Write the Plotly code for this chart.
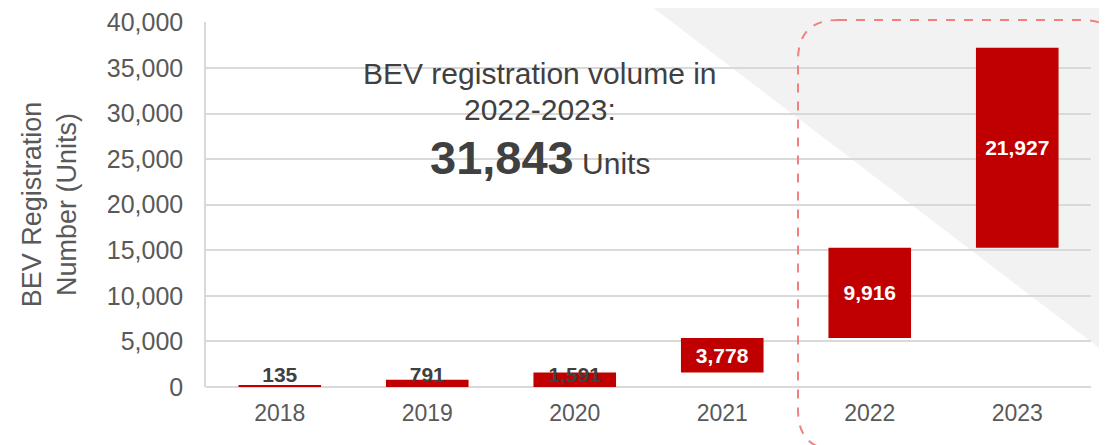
import plotly.graph_objects as go

# BEV registrations per year (units)
years = ["2018", "2019", "2020", "2021", "2022", "2023"]
values = [135, 791, 1591, 3778, 9916, 21927]
total_label = "31,843"

FONT = "Liberation Sans, Arial, sans-serif"
RED = "#C00000"
GREY_TXT = "#404040"

# first three bars start at zero, the rest stack on from 2020
bases = [0, 0, 0]
run = values[2]
for v in values[3:]:
  bases.append(run)
  run += v

small = [f"{v:,}" for v in values[:3]]
big = [f"{v:,}" for v in values[3:]]

fig = go.Figure()

fig.add_trace(go.Bar(
  x = years,
  y = values,
  base = bases,
  marker = dict(color = RED, line = dict(width = 0)),
  text = [""] * 3 + big,
  textposition = "inside",
  insidetextanchor = "middle",
  textangle = 0,
  textfont = dict(family = FONT, size = 21, color = "white", weight = "bold"),
  hoverinfo = "x+y",
))

# labels for the tiny bars, sitting on the baseline
fig.add_trace(go.Scatter(
  x = years[:3],
  y = [0, 0, 0],
  mode = "text",
  text = small,
  textposition = "top center",
  textfont = dict(family = FONT, size = 21, color = GREY_TXT, weight = "bold"),
  hoverinfo = "skip",
))

# the page body has an 8px margin, so the figure sits 8px in from the window
OFF = 8
W, H = 1107, 445
# wanted plot area in window pixels: x 206..1091, y 22..387
PX0, PX1, PY0, PY1 = 206, 1091, 22, 387
L, R = PX0 - OFF, W - (PX1 - OFF)
T, B = PY0 - OFF, H - (PY1 - OFF)
pw, ph = PX1 - PX0, PY1 - PY0
def px(x): return (x - PX0) / pw
def py(y): return (PY1 - y) / ph

shapes = []
# grey triangle in the top right corner
shapes.append(dict(
  type = "path", xref = "paper", yref = "paper", layer = "below",
  path = f"M {px(630)} {py(-10)} L {px(1115)} {py(-10)} L {px(1115)} {py(360)} Z",
  fillcolor = "#F2F2F2", line = dict(width = 0),
))

# dashed rounded box round 2022-2023
x0, x1, y0, y1 = px(798), px(1122), py(20), py(450)
rx, ry = 40 / pw, 40 / ph
box = (f"M {x0 + rx} {y0} L {x1 - rx} {y0} Q {x1} {y0} {x1} {y0 - ry} "
       f"L {x1} {y1 + ry} Q {x1} {y1} {x1 - rx} {y1} "
       f"L {x0 + rx} {y1} Q {x0} {y1} {x0} {y1 + ry} "
       f"L {x0} {y0 - ry} Q {x0} {y0} {x0 + rx} {y0} Z")
shapes.append(dict(
  type = "path", xref = "paper", yref = "paper", layer = "above",
  path = box, line = dict(color = "#F28080", width = 2, dash = "dash"),
))

def note(text, y, size):
  return dict(
    xref = "paper", yref = "paper", x = px(540), y = py(y),
    xanchor = "center", yanchor = "middle",
    text = text, showarrow = False, align = "center",
    font = dict(family = FONT, size = size, color = GREY_TXT),
  )

fig.update_layout(
  width = W, height = H,
  margin = dict(l = L, r = R, t = T, b = B, autoexpand = False),
  paper_bgcolor = "white",
  plot_bgcolor = "rgba(0,0,0,0)",
  showlegend = False,
  bargap = 0.44,
  font = dict(family = FONT, color = "#595959"),
  shapes = shapes,
  annotations = [
    note("BEV registration volume in", 73, 30),
    note("2022-2023:", 109, 30),
    note(f"<b><span style='font-size:47px'>{total_label}</span></b> Units", 157, 30),
  ],
  xaxis = dict(
    type = "category",
    automargin = False,
    tickfont = dict(family = FONT, size = 23, color = "#595959"),
    ticklabelstandoff = 10,
    showline = False, showgrid = False,
  ),
  yaxis = dict(
    range = [0, 40040],
    dtick = 5000,
    tickformat = ",",
    automargin = False,
    ticklabeloverflow = "allow",
    tickfont = dict(family = FONT, size = 25, color = "#595959"),
    ticklabelstandoff = 16,
    showgrid = True, gridcolor = "#D9D9D9", gridwidth = 1.5,
    zeroline = True, zerolinecolor = "#D9D9D9", zerolinewidth = 1.5,
    showline = True, linecolor = "#D9D9D9", linewidth = 1.5,
    title = dict(
      text = "BEV Registration<br>Number (Units)",
      font = dict(family = FONT, size = 27, color = "#595959"),
      standoff = 22,
    ),
  ),
)

fig.write_html("out.html")
